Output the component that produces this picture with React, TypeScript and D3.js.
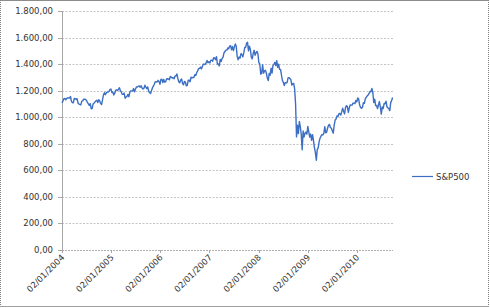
import React from "react";
import * as d3 from "d3";

// Weekly S&P500 closes (first Friday of each year, then weekly)
const yearStarts = ["2004-01-02", "2005-01-07", "2006-01-06", "2007-01-05", "2008-01-04", "2009-01-02", "2010-01-01"];

const values2004 = [1108, 1122, 1140, 1141, 1131, 1142, 1146, 1145, 1145, 1156, 1121, 1110, 1108, 1141, 1139, 1134, 1140, 1107, 1099, 1096, 1094, 1121, 1123, 1136, 1135, 1134, 1126, 1112, 1101, 1089, 1102, 1064, 1065, 1099, 1106, 1114, 1123, 1128, 1111, 1132, 1122, 1104, 1095, 1130, 1166, 1185, 1170, 1182, 1191, 1189, 1195, 1210, 1212];
const values2005 = [1186, 1190, 1168, 1181, 1203, 1206, 1201, 1211, 1222, 1200, 1190, 1172, 1172, 1182, 1143, 1152, 1157, 1172, 1154, 1189, 1198, 1197, 1199, 1216, 1191, 1211, 1228, 1227, 1234, 1235, 1226, 1237, 1220, 1212, 1218, 1241, 1227, 1216, 1228, 1196, 1186, 1178, 1199, 1220, 1234, 1248, 1268, 1265, 1267, 1278, 1268, 1248];
const values2006 = [1285, 1287, 1262, 1284, 1264, 1267, 1288, 1290, 1288, 1282, 1307, 1302, 1295, 1297, 1289, 1311, 1311, 1326, 1291, 1267, 1259, 1280, 1288, 1253, 1245, 1270, 1265, 1236, 1240, 1279, 1279, 1267, 1302, 1296, 1300, 1298, 1321, 1314, 1335, 1349, 1365, 1368, 1377, 1364, 1381, 1400, 1400, 1397, 1409, 1427, 1410, 1418];
const values2007 = [1409, 1430, 1430, 1422, 1448, 1447, 1433, 1456, 1400, 1402, 1386, 1436, 1420, 1443, 1452, 1484, 1495, 1505, 1505, 1522, 1515, 1536, 1539, 1507, 1532, 1502, 1530, 1552, 1534, 1458, 1433, 1453, 1445, 1479, 1473, 1454, 1484, 1525, 1526, 1557, 1565, 1500, 1535, 1510, 1453, 1440, 1481, 1504, 1467, 1484, 1496, 1478];
const values2008 = [1411, 1401, 1325, 1330, 1395, 1332, 1349, 1353, 1331, 1294, 1276, 1330, 1316, 1370, 1332, 1390, 1398, 1413, 1389, 1426, 1375, 1400, 1360, 1360, 1318, 1278, 1262, 1239, 1261, 1258, 1260, 1296, 1298, 1292, 1283, 1242, 1252, 1255, 1213, 1099, 852, 940, 877, 968, 930, 873, 755, 896, 850, 879, 888, 873];
const values2009 = [931, 890, 850, 873, 826, 869, 826, 770, 735, 676, 756, 769, 816, 843, 857, 870, 866, 878, 929, 882, 888, 919, 940, 946, 921, 918, 896, 880, 940, 979, 987, 1010, 1005, 1026, 1028, 1016, 1042, 1068, 1044, 1025, 1072, 1087, 1080, 1036, 1069, 1093, 1091, 1091, 1106, 1106, 1102, 1127];
const values2010 = [1115, 1145, 1137, 1092, 1074, 1067, 1075, 1109, 1105, 1138, 1150, 1160, 1167, 1179, 1194, 1192, 1217, 1187, 1111, 1136, 1088, 1088, 1065, 1092, 1118, 1077, 1023, 1078, 1065, 1103, 1101, 1121, 1079, 1071, 1064, 1050, 1110, 1125, 1148];

const yTicks = [0, 200, 400, 600, 800, 1000, 1200, 1400, 1600, 1800];
const xTickLabels = ["02/01/2004", "02/01/2005", "02/01/2006", "02/01/2007", "02/01/2008", "02/01/2009", "02/01/2010"];
const seriesName = "S&P500";

const W = 490, H = 308;
const left = 62, right = 393, top = 11, bottom = 250;
const lineColor = "#3c6fc4";
const font = "'DejaVu Sans', Verdana, sans-serif";

export default function App() {
  const parse = d3.timeParse("%Y-%m-%d");
  const yearly = [values2004, values2005, values2006, values2007, values2008, values2009, values2010];
  const data: { date: Date; value: number }[] = [];
  yearly.forEach((vals, yi) => {
    const start = parse(yearStarts[yi]) as Date;
    vals.forEach((v, i) => data.push({ date: d3.timeDay.offset(start, i * 7), value: v }));
  });
  const tickDates = xTickLabels.map((s) => d3.timeParse("%d/%m/%Y")(s) as Date);

  const x = d3.scaleTime().domain([tickDates[0], d3.timeDay.offset(data[data.length - 1].date, 3)]).range([left, right]);
  const y = d3.scaleLinear().domain([0, 1800]).range([bottom, top]);
  const line = d3.line<{ date: Date; value: number }>().x((d) => x(d.date)).y((d) => y(d.value));
  const fmt = (v: number) => d3.formatLocale({ decimal: ",", thousands: ".", grouping: [3], currency: ["", ""] }).format(",.2f")(v);

  return (
    <svg width={W} height={H} style={{ position: "absolute", left: 0, top: 0 }} fontFamily={font}>
      <rect x={0} y={0} width={W} height={H} fill="#fff" />
      {/* chart border */}
      <line x1={0} y1={0.5} x2={489} y2={0.5} stroke="#8c8c8c" />
      <line x1={0.5} y1={0} x2={0.5} y2={307} stroke="#7f7f7f" strokeDasharray="1,1" />
      <line x1={488.5} y1={0} x2={488.5} y2={307} stroke="#7f7f7f" strokeDasharray="1,1" />
      <line x1={0} y1={306.5} x2={489} y2={306.5} stroke="#a0a0a0" />
      {/* gridlines */}
      {yTicks.filter((t) => t > 0).map((t) => (
        <line key={t} x1={left} x2={right} y1={Math.round(y(t)) + 0.5} y2={Math.round(y(t)) + 0.5} stroke="#c4c4c4" strokeDasharray="2,1.5" />
      ))}
      {/* y axis */}
      <line x1={left + 0.5} x2={left + 0.5} y1={top} y2={bottom} stroke="#a8a8a8" />
      {yTicks.map((t) => (
        <g key={t}>
          <line x1={left - 4} x2={left} y1={Math.round(y(t)) + 0.5} y2={Math.round(y(t)) + 0.5} stroke="#a8a8a8" />
          <text x={53} y={y(t) + 3} fontSize={8.5} textAnchor="end" fill="#333">{fmt(t)}</text>
        </g>
      ))}
      {/* x axis */}
      <line x1={left} x2={right} y1={bottom + 0.5} y2={bottom + 0.5} stroke="#b0b0b0" strokeDasharray="2,1" />
      {tickDates.map((d, i) => (
        <g key={i}>
          <line x1={Math.round(x(d)) + 0.5} x2={Math.round(x(d)) + 0.5} y1={bottom} y2={bottom + 3} stroke="#a8a8a8" />
          <text transform={`translate(${x(d) + 3},${bottom + 8}) rotate(-45)`} fontSize={8.5} textAnchor="end" fill="#333">{xTickLabels[i]}</text>
        </g>
      ))}
      {/* series */}
      <path d={line(data) || ""} fill="none" stroke={lineColor} strokeWidth={1.4} strokeLinejoin="round" />
      {/* legend */}
      <line x1={412} x2={433} y1={176.5} y2={176.5} stroke={lineColor} strokeWidth={1.2} />
      <text x={436} y={179.5} fontSize={8.5} fill="#333">{seriesName}</text>
    </svg>
  );
}
